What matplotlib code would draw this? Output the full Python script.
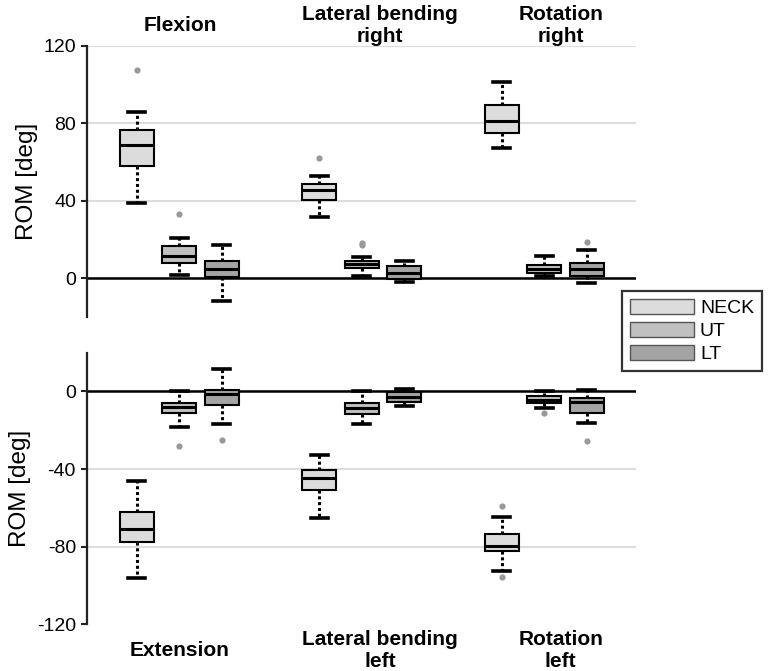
import matplotlib
matplotlib.use("Agg")
import matplotlib.pyplot as plt
from matplotlib.patches import Patch

plt.rcParams['font.family'] = ['Liberation Sans', 'DejaVu Sans']

# segment names and colours
segments = ['NECK', 'UT', 'LT']
seg_colors = ['#dcdcdc', '#c0c0c0', '#a4a4a4']

top_titles = ['Flexion', 'Lateral bending\nright', 'Rotation\nright']
bottom_titles = ['Extension', 'Lateral bending\nleft', 'Rotation\nleft']

# box stats per movement: [whislo, q1, med, q3, whishi]
neck_top = [[38.8, 57.7, 68.8, 76.6, 85.7], [31.4, 40.2, 45.7, 48.6, 52.7], [67.1, 74.9, 81.0, 89.3, 101.1]]
neck_top_fliers = [[107.3], [62.0], []]
ut_top = [[1.7, 7.9, 11.7, 16.5, 20.6], [0.9, 5.3, 7.2, 8.9, 11.0], [1.4, 2.8, 4.8, 6.7, 11.3]]
ut_top_fliers = [[33.1], [17.2, 18.2], []]
lt_top = [[-11.5, 0.7, 4.8, 9.1, 17.2], [-2.0, -0.5, 2.5, 6.2, 8.8], [-2.7, 1.0, 4.8, 8.1, 14.8]]
lt_top_fliers = [[], [], [18.5]]

neck_bot = [[-96.4, -77.6, -71.1, -62.4, -46.4], [-65.5, -51.0, -44.8, -40.5, -32.8], [-92.6, -82.3, -79.9, -73.5, -64.8]]
neck_bot_fliers = [[], [], [-59.1, -95.9]]
ut_bot = [[-18.2, -11.2, -8.2, -5.7, 0.5], [-16.8, -11.5, -8.7, -6.0, 0.3], [-8.6, -6.0, -4.3, -2.2, 0.3]]
ut_bot_fliers = [[-28.3], [], [-11.2]]
lt_bot = [[-16.6, -7.2, -1.4, 0.7, 11.7], [-7.5, -5.5, -2.7, -0.5, 1.5], [-16.3, -11.2, -5.2, -3.2, 0.7]]
lt_bot_fliers = [[-24.9], [], [-25.3]]

top_ticks = [0, 40, 80, 120]
bottom_ticks = [-120, -80, -40, 0]

# layout
group_offset = [0, 4.3, 8.59]
title_x = [2.02, 6.73, 10.98]

fig = plt.figure(figsize=(7.7, 6.71), dpi=100)
ax_top = fig.add_axes([0.113, 0.5276, 0.713, 0.4043])
ax_bot = fig.add_axes([0.113, 0.0700, 0.713, 0.4043])


def make_stats(vals, fl):
    return dict(whislo=vals[0], q1=vals[1], med=vals[2], q3=vals[3], whishi=vals[4], fliers=fl)


def draw_panel(ax, data, ylim, ticks, titles, title_y):
    for k, (stats, fliers) in enumerate(data):
        pos = [g + k + 1 for g in group_offset]
        bst = [make_stats(s, f) for s, f in zip(stats, fliers)]
        ax.bxp(bst, positions=pos, widths=0.8, capwidths=0.4, patch_artist=True,
               boxprops=dict(facecolor=seg_colors[k], edgecolor='black', linewidth=1.5),
               medianprops=dict(color='black', linewidth=2.2),
               whiskerprops=dict(color='black', linewidth=2.2, linestyle=(0, (1, 0.9))),
               capprops=dict(color='black', linewidth=2.6),
               flierprops=dict(marker='o', markerfacecolor='#999999', markeredgecolor='none',
                               markersize=4.5),
               zorder=3)
    ax.axhline(0, color='black', linewidth=1.8, zorder=2)
    ax.set_xlim(-0.169, 12.75)
    ax.set_ylim(*ylim)
    ax.set_yticks(ticks)
    ax.set_yticklabels([str(t) for t in ticks], fontsize=14)
    ax.yaxis.grid(True, color='#dddddd', linewidth=1.5)
    ax.set_axisbelow(True)
    for gl, t in zip(ax.get_ygridlines(), ticks):
        if t == -120:
            gl.set_visible(False)
    ax.tick_params(axis='y', length=4, width=1.5, color='#222222', pad=4)
    ax.set_xticks([])
    for s in ['top', 'right', 'bottom']:
        ax.spines[s].set_visible(False)
    ax.spines['left'].set_linewidth(1.6)
    ax.spines['left'].set_color('#222222')
    ax.set_ylabel('ROM [deg]', fontsize=17.5, labelpad=4)
    for x, t in zip(title_x, titles):
        ax.text(x, title_y, t, transform=ax.get_xaxis_transform(), ha='center', va='center',
                fontsize=15, fontweight='bold', linespacing=1.2)


draw_panel(ax_top,
           [(neck_top, neck_top_fliers), (ut_top, ut_top_fliers), (lt_top, lt_top_fliers)],
           (-20, 120), top_ticks, top_titles, 1.076)
draw_panel(ax_bot,
           [(neck_bot, neck_bot_fliers), (ut_bot, ut_bot_fliers), (lt_bot, lt_bot_fliers)],
           (-120, 20), bottom_ticks, bottom_titles, -0.096)

handles = [Patch(facecolor=c, edgecolor='#555555', linewidth=1.0, label=s)
           for c, s in zip(seg_colors, segments)]
leg = fig.legend(handles=handles, loc='upper left', bbox_to_anchor=(0.808, 0.566),
                 borderaxespad=0, fontsize=14, handlelength=3.3, handleheight=0.85,
                 labelspacing=0.22, handletextpad=0.3, borderpad=0.4,
                 fancybox=False, framealpha=1)
leg.get_frame().set_edgecolor('#333333')
leg.get_frame().set_linewidth(1.6)

fig.savefig('out.png', dpi=100)
